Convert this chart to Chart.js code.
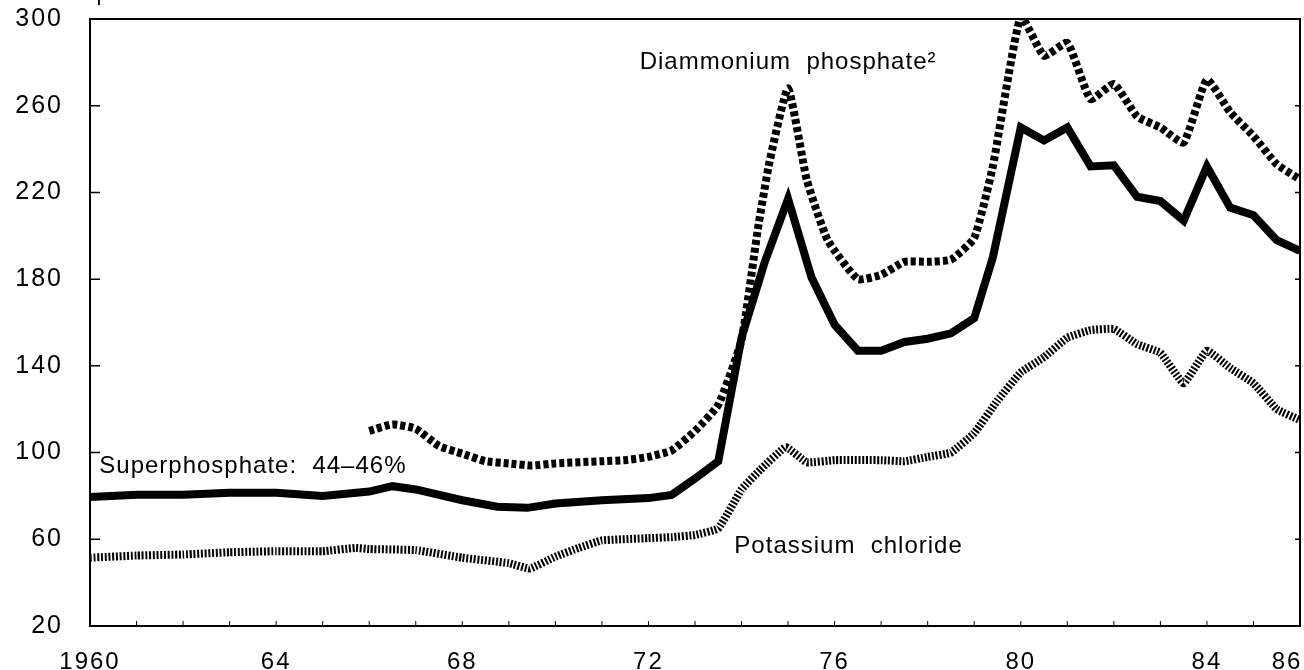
<!DOCTYPE html>
<html>
<head>
<meta charset="utf-8">
<script src="https://cdn.jsdelivr.net/npm/chart.js@4.4.1/dist/chart.umd.min.js"></script>
<style>
  html, body { margin: 0; padding: 0; background: #fff; }
  canvas { display: block; }
</style>
</head>
<body>
<canvas id="c" width="1304" height="670"></canvas>
<script>
// ---- Data ----
const superYears  = [1960,1961,1962,1963,1964,1965,1966,1966.5,1967,1968,1968.75,1969.4,1970,1971,1972,1972.5,1973,1973.5,1974,1974.5,1975,1975.5,1976,1976.5,1977,1977.5,1978,1978.5,1979,1979.4,1980,1980.5,1981,1981.5,1982,1982.5,1983,1983.5,1984,1984.5,1985,1985.5,1986];
const superValues = [79.5,80.5,80.5,81.5,81.5,80,82,84.5,83,78,75,74.5,76.5,78,79,80.5,88,96,153,188,217,181,159,147,147,151,152.5,155,162,190,250,244,250,232,232.5,218,216,207,232,213,209.5,198,193];

const dapYears  = [1966,1966.5,1967,1967.5,1968,1968.5,1969,1969.5,1970,1971,1971.5,1972,1972.5,1973,1973.5,1974,1974.35,1974.6,1975,1975.4,1975.85,1976.5,1977,1977.5,1978,1978.5,1979,1979.4,1980,1980.5,1981,1981.5,1982,1982.5,1983,1983.5,1984,1984.5,1985,1985.5,1986];
const dapValues = [110,113,111,103,99.5,96,95,94,95,96,96.5,98,101,110,122,152,203,234,268,226,198,180,182,188,188,189,199,232,301,283,289,263,270,255,250,243,272,257,246,233,226];

const potYears  = [1960,1961,1962,1963,1964,1965,1965.7,1966,1967,1968,1969,1969.45,1970,1970.5,1971,1972,1972.5,1973,1973.5,1974,1974.4,1974.95,1975.4,1976,1977,1977.5,1978,1978.5,1979,1979.5,1980,1980.5,1981,1981.5,1982,1982.5,1983,1983.5,1984,1984.5,1985,1985.5,1986];
const potValues = [51.5,52.5,53,54,54.5,54.5,56,55.5,55,51.5,49,46.5,52,56,59.5,60.5,61,62,65,83,92,102.5,95.5,96.5,96.5,96,98,100,109,124,137,144,153,156.5,157,150,146,132,147,139,132,120,115];

const xTickValues = [1960,1964,1968,1972,1976,1980,1984,1986];
const xTickLabels = ['1960','64','68','72','76','80','84','86   '];
const yTickValues = [20,60,100,140,180,220,260,300];

const yAxisTitle = 'Dollars per ton';
const seriesLabels = [
  { text: 'Diammonium  phosphate²', x: 1975.0, y: 280 },
  { text: 'Superphosphate:  44–46%', x: 1963.5, y: 93.5 },
  { text: 'Potassium  chloride', x: 1976.3, y: 56.5 }
];

// ---- Build datasets ----
function pts(xs, ys) { return xs.map((x, i) => ({ x: x, y: ys[i] })); }

const FONT = '"Liberation Sans", Arial, Helvetica, sans-serif';

const spacingPlugin = {
  id: 'spacing',
  beforeInit(chart) { chart.ctx.letterSpacing = '2px'; },
  beforeUpdate(chart) { chart.ctx.letterSpacing = '2px'; },
  beforeLayout(chart) { chart.ctx.letterSpacing = '2px'; },
  beforeDraw(chart) { chart.ctx.letterSpacing = '2px'; }
};

const framePlugin = {
  id: 'frame',
  afterDraw(chart) {
    const ctx = chart.ctx;
    const a = chart.chartArea;
    const xs = chart.scales.x, ys = chart.scales.y;
    ctx.save();
    ctx.strokeStyle = '#000';
    ctx.lineWidth = 2;
    ctx.strokeRect(a.left, a.top, a.right - a.left, a.bottom - a.top);
    // inner y ticks (left and right)
    ctx.lineWidth = 1.5;
    yTickValues.forEach(v => {
      const py = ys.getPixelForValue(v);
      ctx.beginPath();
      ctx.moveTo(a.left, py); ctx.lineTo(a.left + 10, py);
      ctx.moveTo(a.right, py); ctx.lineTo(a.right - 5, py);
      ctx.stroke();
    });
    // small inner x ticks each year
    ctx.lineWidth = 1;
    for (let yr = 1961; yr < 1986; yr++) {
      const px = xs.getPixelForValue(yr);
      ctx.beginPath();
      ctx.moveTo(px, a.bottom); ctx.lineTo(px, a.bottom - 5);
      ctx.stroke();
    }
    // series labels
    ctx.fillStyle = '#000';
    ctx.letterSpacing = '1px';
    ctx.font = '24px ' + FONT;
    ctx.textAlign = 'center';
    ctx.textBaseline = 'middle';
    seriesLabels.forEach(l => {
      ctx.fillText(l.text, xs.getPixelForValue(l.x), ys.getPixelForValue(l.y));
    });
    // axis unit title (mostly cut off at top as in reference)
    ctx.textAlign = 'left';
    ctx.textBaseline = 'bottom';
    ctx.font = '22px ' + FONT;
    ctx.fillText(yAxisTitle, 14, 5);
    ctx.restore();
  }
};

new Chart(document.getElementById('c'), {
  type: 'line',
  data: {
    datasets: [
      {
        label: 'Diammonium phosphate',
        data: pts(dapYears, dapValues),
        borderColor: '#000',
        borderWidth: 8,
        borderDash: [5, 3],
        borderCapStyle: 'butt',
        borderJoinStyle: 'miter',
        pointRadius: 0,
        tension: 0.15
      },
      {
        label: 'Superphosphate: 44-46%',
        data: pts(superYears, superValues),
        borderColor: '#000',
        borderWidth: 8,
        borderJoinStyle: 'miter',
        pointRadius: 0,
        tension: 0
      },
      {
        label: 'Potassium chloride',
        data: pts(potYears, potValues),
        borderColor: '#000',
        borderWidth: 8,
        borderDash: [2, 1.7],
        borderCapStyle: 'butt',
        borderJoinStyle: 'miter',
        pointRadius: 0,
        tension: 0.1
      }
    ]
  },
  options: {
    responsive: false,
    animation: false,
    devicePixelRatio: 1,
    layout: { padding: { top: 19, right: 4, left: 0, bottom: 0 } },
    plugins: {
      legend: { display: false },
      tooltip: { enabled: false },
      title: { display: false }
    },
    scales: {
      x: {
        type: 'linear',
        min: 1960,
        max: 1986,
        afterBuildTicks: (s) => { s.ticks = xTickValues.map(v => ({ value: v })); },
        afterFit: (s) => { s.height = 44; s.paddingLeft = 0; s.paddingRight = 0; },
        grid: { display: false, drawTicks: false },
        border: { display: false },
        ticks: {
          autoSkip: false,
          maxRotation: 0,
          padding: 22,
          color: '#000',
          font: { family: FONT, size: 24 },
          callback: (v) => { const i = xTickValues.indexOf(v); return i >= 0 ? xTickLabels[i] : ''; }
        }
      },
      y: {
        type: 'linear',
        min: 20,
        max: 300,
        afterBuildTicks: (s) => { s.ticks = yTickValues.map(v => ({ value: v })); },
        afterFit: (s) => { s.width = 90; s.paddingTop = 0; s.paddingBottom = 0; },
        grid: { display: false, drawTicks: false },
        border: { display: false },
        ticks: {
          padding: 27,
          color: '#000',
          font: { family: FONT, size: 25 }
        }
      }
    }
  },
  plugins: [spacingPlugin, framePlugin]
});
</script>
</body>
</html>
